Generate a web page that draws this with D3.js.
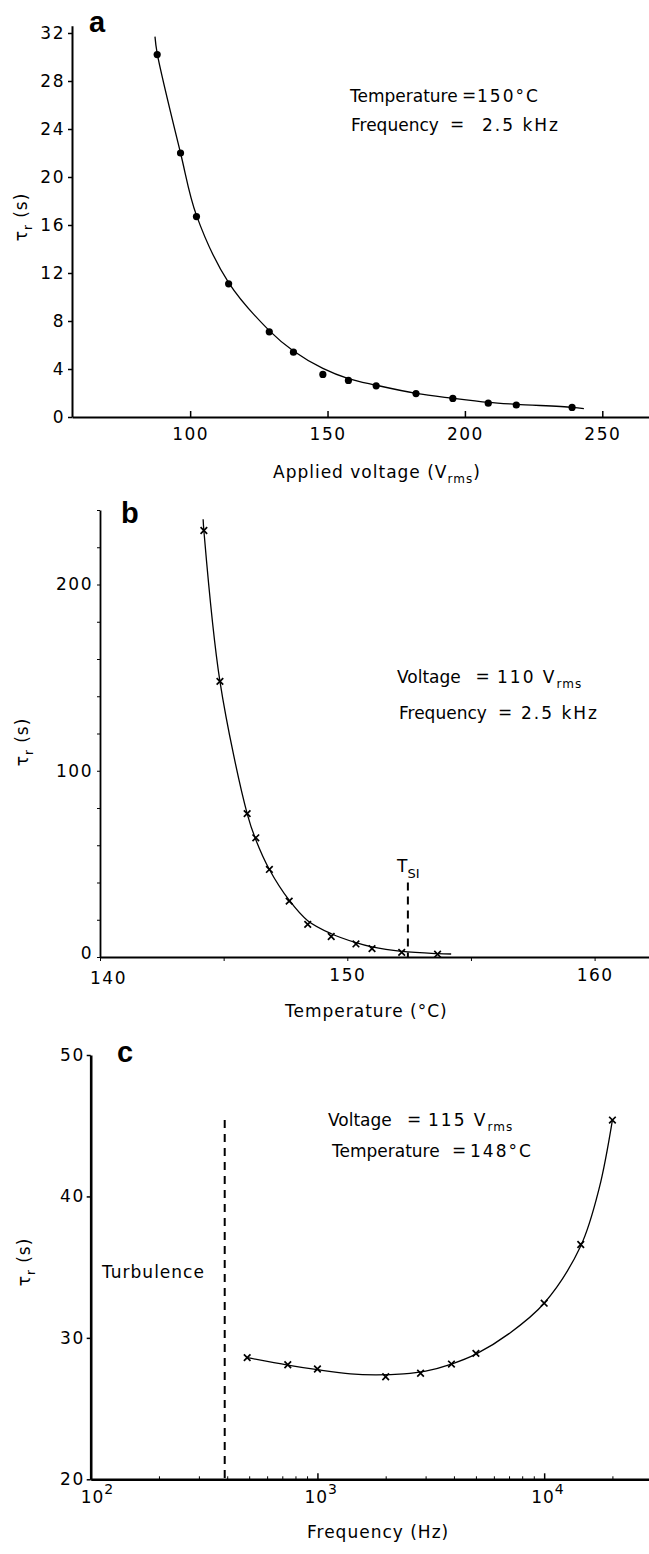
<!DOCTYPE html>
<html lang="en">
<head>
<meta charset="UTF-8">
<title>Relaxation time plots</title>
<script src="https://d3js.org/d3.v7.min.js"></script>
<style>
  body { margin: 0; background: #fff; }
  svg { display: block; }
  text { font-family: "DejaVu Sans", sans-serif; font-size: 17px; fill: #000; letter-spacing: 1px; }
  .tick text { font-family: "DejaVu Sans", sans-serif; font-size: 17px; letter-spacing: 1.5px; }
  .axis path, .axis line { stroke: #000; }
  .panel-label { font-family: "Liberation Sans", Arial, sans-serif; font-weight: bold; font-size: 29px; letter-spacing: 0; }
  .word { letter-spacing: 0; }
  .value { letter-spacing: 2px; }
  .fit { fill: none; stroke: #000; stroke-width: 1.3; }
  .cross { fill: none; stroke: #000; stroke-width: 1.7; }
  .dash { stroke: #000; stroke-width: 2; stroke-dasharray: 8,6; }
</style>
</head>
<body>
<script>
// ---- panel a : tau_r vs applied voltage ----
const voltage = [88, 96.5, 102.3, 114, 128.8, 137.6, 148.3, 157.6, 167.7, 182.2, 195.6, 208.5, 218.7, 239];
const tauA = [30.2, 22.0, 16.7, 11.1, 7.1, 5.4, 3.55, 3.05, 2.6, 1.95, 1.55, 1.15, 1.0, 0.8];
const fitVoltage = [87.2, 88, 96.5, 102.3, 114, 128.8, 137.6, 148.3, 157.6, 167.7, 182.2, 195.6, 208.5, 218.7, 239, 243.3];
const fitTauA = [31.7, 30.3, 22.0, 16.8, 11.2, 7.2, 5.5, 4.05, 3.2, 2.65, 1.97, 1.56, 1.22, 1.06, 0.81, 0.7];
const ticksA_y = [0, 4, 8, 12, 16, 20, 24, 28, 32];
const ticksA_x = [100, 150, 200, 250];

// ---- panel b : tau_r vs temperature ----
const temperature = [144.2, 144.85, 145.95, 146.3, 146.85, 147.65, 148.4, 149.35, 150.35, 151.0, 152.2, 153.65];
const tauB = [229, 148, 77, 64, 47, 30, 17.5, 11, 7, 4.5, 2.5, 1.5];
const fitTemp = [144.17, 144.2, 144.85, 145.95, 146.3, 146.85, 147.65, 148.4, 149.35, 150.35, 151.0, 152.2, 153.65, 154.2];
const fitTauB = [235, 229, 148, 77, 63, 47, 30.5, 19.5, 12.5, 7.7, 5.4, 3.0, 1.8, 1.6];
const ticksB_y = [0, 20, 40, 60, 80, 100, 120, 140, 160, 180, 200, 220, 240];
const labelsB_y = [0, 100, 200];
const ticksB_x = [140, 145, 150, 155, 160];
const labelsB_x = [140, 150, 160];
const tSI = 152.45, tSItop = 40;

// ---- panel c : tau_r vs frequency ----
const frequency = [490, 740, 1000, 2000, 2850, 3900, 5000, 10000, 14500, 20000];
const tauC = [28.6, 28.1, 27.8, 27.25, 27.5, 28.15, 28.9, 32.45, 36.6, 45.4];
const fitFreq = [490, 740, 1000, 1400, 1800, 2400, 3000, 3900, 5000, 7000, 10000, 14500, 17500, 20000];
const fitTauC = [28.6, 28.08, 27.75, 27.45, 27.38, 27.45, 27.65, 28.15, 28.85, 30.3, 32.45, 36.5, 40.6, 45.4];
const ticksC_y = [20, 30, 40, 50];
const decadesC = [2, 3, 4];
const turbulenceFreq = 390, turbulenceTop = 45.4;

const svg = d3.select("body").append("svg")
  .attr("width", 649)
  .attr("height", 1554);

function crosses(g, xs, ys, x, y, s) {
  g.selectAll(null)
    .data(xs.map((d, i) => [d, ys[i]]))
    .enter().append("path")
    .attr("class", "cross")
    .attr("d", d => {
      const px = x(d[0]), py = y(d[1]);
      return `M${px - s},${py - s}L${px + s},${py + s}M${px - s},${py + s}L${px + s},${py - s}`;
    });
}

function yLabel(g, cx, cy) {
  const t = g.append("text")
    .attr("transform", `translate(${cx},${cy}) rotate(-90)`)
    .attr("text-anchor", "middle");
  t.append("tspan").text("\u03c4");
  t.append("tspan").attr("dy", 5).attr("font-size", 12).text("r");
  t.append("tspan").attr("dy", -5).text(" (s)");
}

// left word, "=" centred at eqX, value from valX (with optional subscript)
function note(g, y, word, wordX, eqX, val, valX, sub) {
  g.append("text").attr("class", "word").attr("x", wordX).attr("y", y).text(word);
  g.append("text").attr("x", eqX).attr("y", y - 1).attr("font-size", 13)
    .attr("text-anchor", "middle").style("letter-spacing", "0").text("=");
  const t = g.append("text").attr("class", "value").attr("x", valX).attr("y", y);
  t.append("tspan").text(val);
  if (sub) t.append("tspan").attr("dy", 5).attr("font-size", 12).style("letter-spacing", "1px").text(sub);
}

// ===================== panel a =====================
{
  const g = svg.append("g");
  const x = d3.scaleLinear().domain([57, 267]).range([72, 649]);
  const y = d3.scaleLinear().domain([0, 32.6]).range([417, 25.8]);

  g.append("g").attr("class", "axis")
    .attr("transform", `translate(0,${y(0)})`)
    .call(d3.axisBottom(x).tickValues(ticksA_x).tickSize(-6).tickSizeOuter(0).tickPadding(11))
    .call(a => a.select(".domain").attr("stroke-width", 2))
    .call(a => a.selectAll(".tick line").attr("stroke-width", 1.5));

  g.append("g").attr("class", "axis")
    .attr("transform", `translate(${x(57)},0)`)
    .call(d3.axisLeft(y).tickValues(ticksA_y).tickSize(4).tickSizeOuter(0).tickPadding(3))
    .call(a => a.select(".domain").attr("stroke-width", 2))
    .call(a => a.selectAll(".tick line").attr("stroke-width", 1.5));

  const line = d3.line().x((d, i) => x(fitVoltage[i])).y(d => y(d)).curve(d3.curveCatmullRom.alpha(0.5));
  g.append("path").attr("class", "fit").attr("d", line(fitTauA));

  g.selectAll(".dot")
    .data(voltage)
    .enter().append("circle")
    .attr("class", "dot")
    .attr("cx", d => x(d))
    .attr("cy", (d, i) => y(tauA[i]))
    .attr("r", 3.6)
    .attr("fill", "#000");

  g.append("text").attr("class", "panel-label").attr("x", 89).attr("y", 32).text("a");
  yLabel(g, 27, 217);
  note(g, 102, "Temperature", 350, 469, "150\u00b0C", 477);
  note(g, 131, "Frequency", 351, 457, "2.5 kHz", 482);

  const xl = g.append("text").attr("x", 273).attr("y", 478);
  xl.append("tspan").text("Applied voltage (V");
  xl.append("tspan").attr("dy", 5).attr("font-size", 12).text("rms");
  xl.append("tspan").attr("dy", -5).text(")");
}

// ===================== panel b =====================
{
  const g = svg.append("g");
  const x = d3.scaleLinear().domain([140, 162.2]).range([100, 649]);
  const y = d3.scaleLinear().domain([0, 240]).range([957, 510]);

  g.append("g").attr("class", "axis")
    .attr("transform", `translate(0,${y(0)})`)
    .call(d3.axisBottom(x).tickValues(ticksB_x).tickSize(4).tickSizeOuter(0).tickPadding(8)
      .tickFormat(d => labelsB_x.includes(d) ? d : ""))
    .call(a => a.select(".domain").attr("stroke-width", 2))
    .call(a => a.selectAll(".tick text").filter(d => d === 140).attr("dx", 8).attr("dy", "0.9em"));

  g.append("g").attr("class", "axis")
    .attr("transform", `translate(${x(140)},0)`)
    .call(d3.axisLeft(y).tickValues(ticksB_y).tickSize(3).tickSizeOuter(0).tickPadding(4)
      .tickFormat(d => labelsB_y.includes(d) ? d : ""))
    .call(a => a.select(".domain").attr("stroke-width", 1.8))
    .call(a => a.selectAll(".tick text").filter(d => d === 0).attr("dy", "0.1em"));

  const line = d3.line().x((d, i) => x(fitTemp[i])).y(d => y(d)).curve(d3.curveCatmullRom.alpha(0.5));
  g.append("path").attr("class", "fit").attr("d", line(fitTauB));

  crosses(g, temperature, tauB, x, y, 3.3);

  g.append("line").attr("class", "dash")
    .attr("x1", x(tSI)).attr("x2", x(tSI))
    .attr("y1", y(tSItop)).attr("y2", y(0));
  const ts = g.append("text").attr("x", 397).attr("y", 872).attr("font-size", 15).style("letter-spacing", "0");
  ts.append("tspan").text("T");
  ts.append("tspan").attr("dy", 6).attr("font-size", 13).text("SI");

  g.append("text").attr("class", "panel-label").attr("x", 121).attr("y", 523).text("b");
  yLabel(g, 28, 742);
  note(g, 683, "Voltage", 397, 482.5, "110 V", 497, "rms");
  note(g, 719, "Frequency", 399, 505, "2.5 kHz", 521);

  g.append("text").attr("x", 285).attr("y", 1017).text("Temperature (\u00b0C)");
}

// ===================== panel c =====================
{
  const g = svg.append("g");
  const x = d3.scaleLog().domain([100, 29000]).range([90.7, 649]);
  const y = d3.scaleLinear().domain([20, 50]).range([1479.3, 1055]);

  const minor = [];
  decadesC.forEach(p => { for (let k = 1; k <= 9; k++) { const v = k * Math.pow(10, p); if (v <= 29000) minor.push(v); } });

  g.append("g").attr("class", "axis")
    .attr("transform", `translate(0,${y(20)})`)
    .call(d3.axisBottom(x).tickValues(minor).tickSize(-3).tickSizeOuter(0).tickFormat(""))
    .call(a => a.select(".domain").attr("stroke-width", 2.6))
    .call(a => a.selectAll(".tick line").filter(d => [100, 1000, 10000].includes(d)).attr("y2", -6).attr("stroke-width", 1.5));

  decadesC.forEach(p => {
    const t = g.append("text")
      .attr("x", x(Math.pow(10, p)) - 13 + (p === 2 ? 3 : 0))
      .attr("y", 1503);
    t.append("tspan").text("10");
    t.append("tspan").attr("dy", -9).attr("font-size", 14).text(p);
  });

  g.append("g").attr("class", "axis")
    .attr("transform", `translate(${x(100)},0)`)
    .call(d3.axisLeft(y).tickValues(ticksC_y).tickSize(4).tickSizeOuter(0).tickPadding(2))
    .call(a => a.select(".domain").attr("stroke-width", 2.6))
    .call(a => a.selectAll(".tick line").attr("stroke-width", 1.5));

  const line = d3.line().x((d, i) => x(fitFreq[i])).y(d => y(d)).curve(d3.curveCatmullRom.alpha(0.5));
  g.append("path").attr("class", "fit").attr("d", line(fitTauC));

  crosses(g, frequency, tauC, x, y, 3.3);

  g.append("line").attr("class", "dash")
    .attr("x1", x(turbulenceFreq)).attr("x2", x(turbulenceFreq))
    .attr("y1", y(turbulenceTop)).attr("y2", y(20));

  g.append("text").attr("x", 102).attr("y", 1278).text("Turbulence");
  g.append("text").attr("class", "panel-label").attr("x", 117).attr("y", 1062).text("c");
  yLabel(g, 30, 1262);
  note(g, 1126, "Voltage", 328, 414, "115 V", 428, "rms");
  note(g, 1157, "Temperature", 332, 459, "148\u00b0C", 470);

  g.append("text").attr("x", 307).attr("y", 1538).text("Frequency (Hz)");
}
</script>
</body>
</html>
